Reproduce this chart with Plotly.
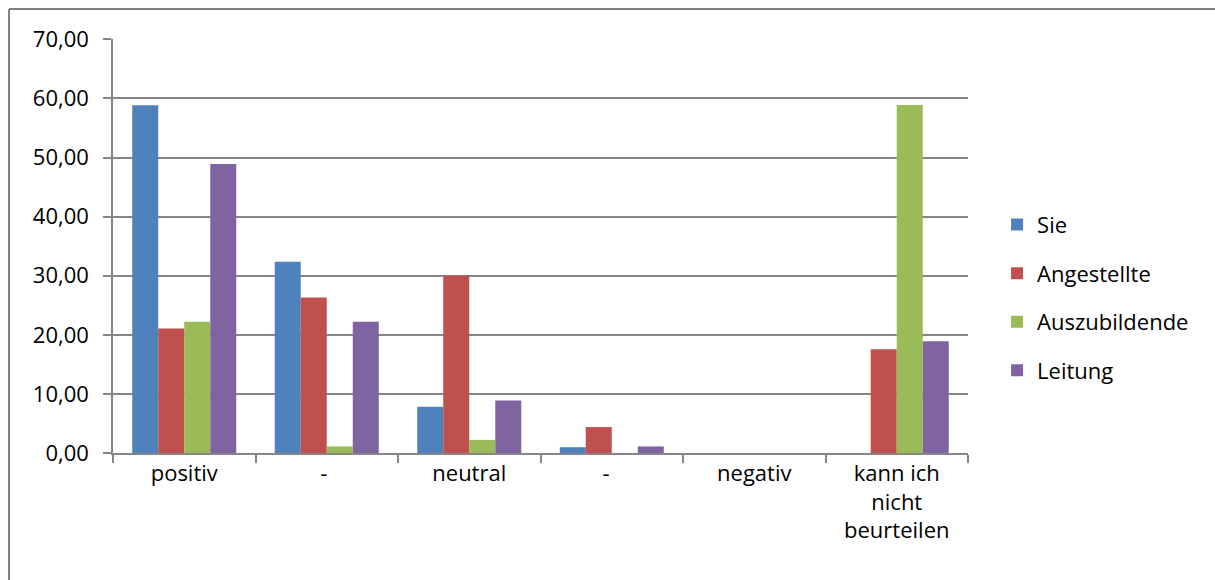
import plotly.graph_objects as go

# Survey answers (percent) per response category and group
categories = ["positiv", "- ", "neutral", "-  ", "negativ", "kann ich<br>nicht<br>beurteilen"]
series_names = ["Sie", "Angestellte", "Auszubildende", "Leitung"]
sie = [58.82, 32.35, 7.84, 0.98, 0.0, 0.0]
angestellte = [21.05, 26.32, 30.00, 4.39, 0.0, 17.54]
auszubildende = [22.22, 1.11, 2.22, 0.0, 0.0, 58.89]
leitung = [48.89, 22.22, 8.89, 1.11, 0.0, 18.89]
colors = ["#4f81bd", "#c0504d", "#9bbb59", "#8064a2"]
y_ticks = [0, 10, 20, 30, 40, 50, 60, 70]
y_tick_labels = ["0,00", "10,00", "20,00", "30,00", "40,00", "50,00", "60,00", "70,00"]

FONT = "Open Sans, Noto Sans, sans-serif"
GRID = "#868686"
FS = 22

fig = go.Figure()
for name, vals, col in zip(series_names, [sie, angestellte, auszubildende, leitung], colors):
    fig.add_trace(go.Bar(
        x=categories, y=vals, name=name, legendgroup=name,
        marker=dict(color=col, line=dict(width=0)),
    ))

fig.update_layout(
    width=1215, height=580,
    margin=dict(l=113, r=247, t=39, b=127),
    paper_bgcolor="white", plot_bgcolor="white",
    barmode="group", bargap=0.27, bargroupgap=0,
    font=dict(family=FONT, size=FS, color="#000000"),
    showlegend=True,
    legend=dict(
        x=1.034, xanchor="left", y=0.375, yanchor="middle",
        font=dict(family=FONT, size=FS, color="#000000"),
        traceorder="grouped", tracegroupgap=17,
        itemwidth=30, bgcolor="rgba(0,0,0,0)",
    ),
    xaxis=dict(
        type="category", showgrid=False,
        showline=True, linecolor=GRID, linewidth=1.5,
        ticks="outside", tickson="boundaries", ticklen=8,
        tickcolor=GRID, tickwidth=1.5,
        tickfont=dict(family=FONT, size=FS, color="#000000"),
        tickangle=0,
    ),
    yaxis=dict(
        range=[0, 70.05], tickvals=y_ticks, ticktext=y_tick_labels,
        showgrid=True, gridcolor=GRID, gridwidth=1.5,
        showline=True, linecolor=GRID, linewidth=1.5,
        ticks="outside", ticklen=8, tickcolor=GRID, tickwidth=1.5,
        ticklabelstandoff=10,
        tickfont=dict(family=FONT, size=FS, color="#000000"),
        zeroline=False,
    ),
)

# Outer chart frame (top and left edges)
fig.add_shape(type="line", xref="paper", yref="paper",
              x0=-0.1216, x1=1.3, y0=1.0725, y1=1.0725,
              line=dict(color="#7f7f7f", width=2))
fig.add_shape(type="line", xref="paper", yref="paper",
              x0=-0.1216, x1=-0.1216, y0=1.0725, y1=-0.35,
              line=dict(color="#7f7f7f", width=2))

fig.write_html("out.html")
